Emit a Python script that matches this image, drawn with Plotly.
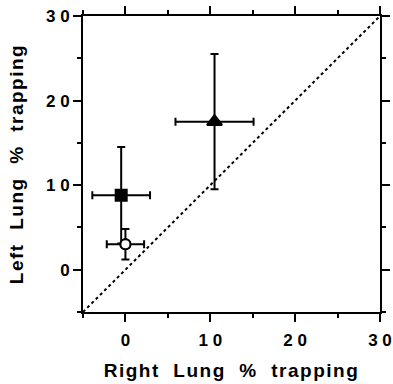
import plotly.graph_objects as go

# Group means of lung air trapping (%) with SD in both directions
right_lung = [-0.5, 10.5, 0.0]
left_lung = [8.8, 17.5, 3.0]
right_sd = [3.4, 4.6, 2.2]
left_sd = [5.7, 8.0, 1.8]
symbols = ["square", "triangle-up", "circle-open"]
marker_sizes = [11, 13, 10]

# Line of identity
identity = [-5, 30]

major_vals = [0, 10, 20, 30]
major_text = ["0", "1 0", "2 0", "3 0"]

FONT = "Liberation Sans, Arial, sans-serif"
NB = "\u00a0"

fig = go.Figure()

fig.add_trace(go.Scatter(
    x=identity, y=identity, mode="lines",
    line=dict(color="black", width=2, dash="dot"),
    hoverinfo="skip", showlegend=False,
))

for i in range(len(right_lung)):
    fig.add_trace(go.Scatter(
        x=[right_lung[i]], y=[left_lung[i]], mode="markers",
        marker=dict(symbol=symbols[i], size=marker_sizes[i], color="black",
                    line=dict(color="black", width=2)),
        error_x=dict(type="data", array=[right_sd[i]], color="black",
                     thickness=2, width=4),
        error_y=dict(type="data", array=[left_sd[i]], color="black",
                     thickness=2, width=4),
        showlegend=False,
    ))

# Re-draw the open circle with a white face so bars do not show through it
fig.add_trace(go.Scatter(
    x=[right_lung[2]], y=[left_lung[2]], mode="markers",
    marker=dict(symbol="circle", size=marker_sizes[2], color="white",
                line=dict(color="black", width=2)),
    showlegend=False,
))


def title_text(words):
    return '<span style="letter-spacing:1.5px">' + (NB * 2).join(words) + "</span>"


axis_common = dict(
    range=[-5, 30], tickvals=major_vals, ticktext=major_text,
    ticks="outside", ticklen=8, tickwidth=2, tickcolor="black",
    showline=True, linewidth=2, linecolor="black", mirror="ticks",
    showgrid=False, zeroline=False, automargin=False,
    minor=dict(tickvals=[-5, 5, 15, 25], ticks="outside", ticklen=4,
               tickwidth=2, tickcolor="black", showgrid=False),
    tickfont=dict(family=FONT, size=17, color="black", weight="bold"),
)

fig.update_xaxes(**axis_common, ticklabelstandoff=4,
                 title=dict(text=title_text(["Right", "Lung", "%", "trapping"]),
                            font=dict(family=FONT, size=19, color="black", weight="bold"),
                            standoff=14))
fig.update_yaxes(**axis_common,
                 title=dict(text=title_text(["Left", "Lung", "%", "trapping"]),
                            font=dict(family=FONT, size=19, color="black", weight="bold"),
                            standoff=17))

fig.update_layout(
    width=393, height=384,
    margin=dict(l=83, r=13, t=16, b=72),
    paper_bgcolor="white", plot_bgcolor="white",
)

fig.write_html("out.html")
